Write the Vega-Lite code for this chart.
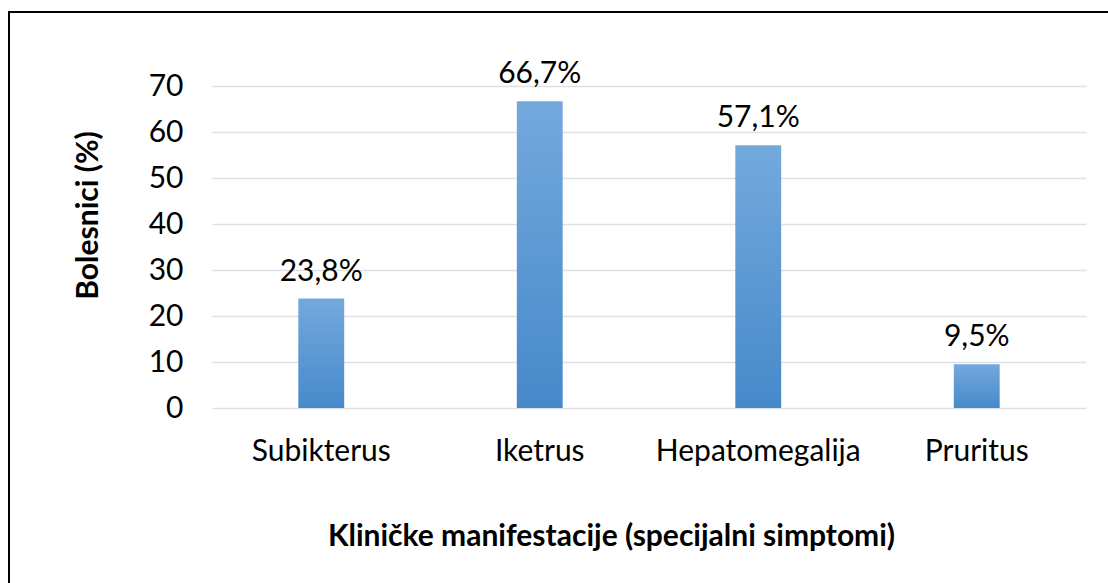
{
  "$schema": "https://vega.github.io/schema/vega-lite/v6.json",
  "width": 1102,
  "height": 574,
  "autosize": {"type": "none"},
  "padding": {"left": 9, "top": 12, "right": 0, "bottom": 0},
  "background": "white",
  "config": {"view": {"stroke": "#000000", "strokeWidth": 2}, "font": "Lato"},
  "data": {"values": [
    {"cat": "Subikterus", "value": 23.8, "label": "23,8%"},
    {"cat": "Iketrus", "value": 66.7, "label": "66,7%"},
    {"cat": "Hepatomegalija", "value": 57.1, "label": "57,1%"},
    {"cat": "Pruritus", "value": 9.5, "label": "9,5%"}
  ]},
  "encoding": {
    "x": {
      "field": "cat", "type": "nominal", "sort": null,
      "scale": {"range": [203, 1077], "paddingInner": 0.79, "paddingOuter": 0.395},
      "axis": {
        "orient": "bottom", "offset": -178, "title": "Kliničke manifestacije (specijalni simptomi)",
        "labelAngle": 0, "labelFontSize": 30, "labelColor": "#000000", "labelBaseline": "alphabetic",
        "labelPadding": 52, "labelLimit": 0, "ticks": false, "domain": false, "grid": false,
        "titleFontSize": 30, "titleFontWeight": "bold", "titleColor": "#000000",
        "titleX": 602, "titleY": 137, "titleBaseline": "alphabetic", "titleAlign": "center"
      }
    },
    "y": {
      "field": "value", "type": "quantitative",
      "scale": {"domain": [0, 70], "range": [396, 74], "nice": false, "zero": true},
      "axis": {
        "orient": "left", "offset": -203, "values": [0, 10, 20, 30, 40, 50, 60, 70],
        "title": "Bolesnici (%)", "labelFontSize": 30, "labelColor": "#000000", "labelPadding": 29,
        "ticks": false, "domain": false, "grid": true, "gridColor": "#dde1e6", "gridWidth": 1.5,
        "titleFontSize": 30, "titleFontWeight": "bold", "titleColor": "#000000",
        "titleX": -124, "titleY": 203, "titleBaseline": "middle", "titleAlign": "center", "titleAngle": 270
      }
    }
  },
  "layer": [
    {"mark": {"type": "bar", "color": {"gradient": "linear", "x1": 0, "y1": 0, "x2": 0, "y2": 1,
      "stops": [{"offset": 0, "color": "#74A9DD"}, {"offset": 1, "color": "#4689CA"}]}}},
    {"mark": {"type": "text", "baseline": "alphabetic", "dy": -18, "fontSize": 30, "color": "#000000"},
     "encoding": {"text": {"field": "label"}}}
  ]
}
